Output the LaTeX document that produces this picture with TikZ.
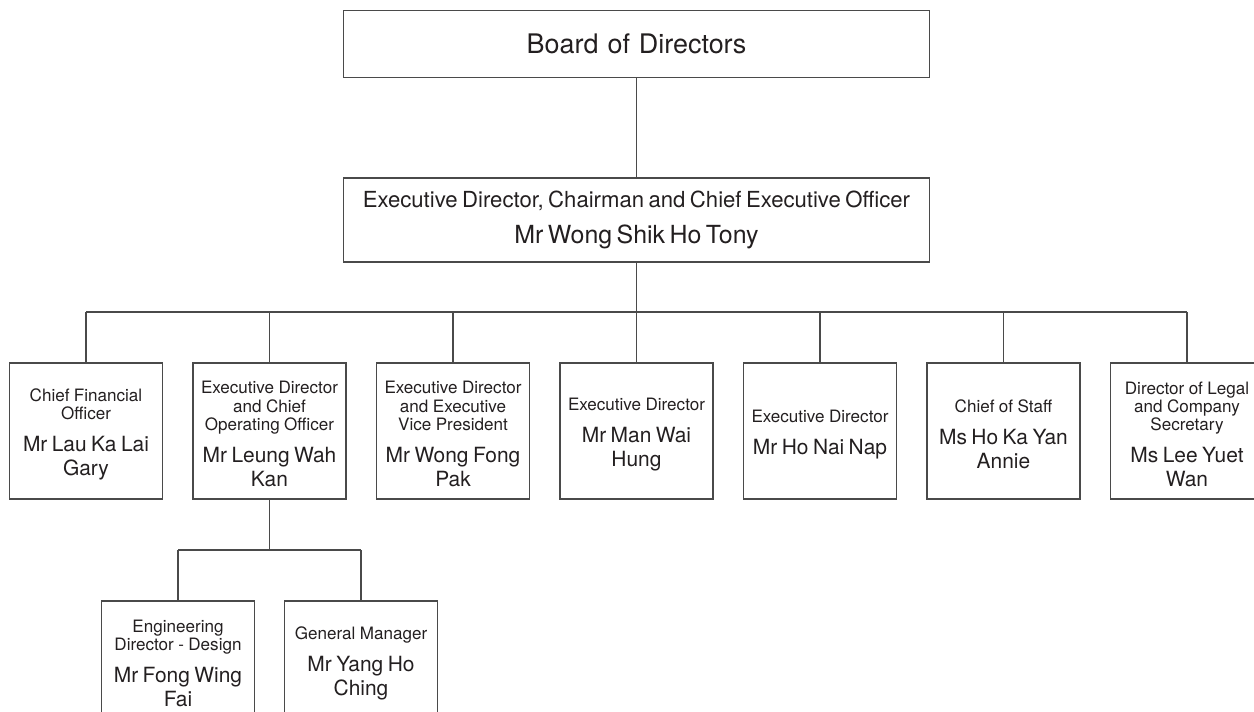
\documentclass[tikz,border=0pt]{standalone}
\usepackage{fontspec}
\setmainfont{TeX Gyre Heros}
\usetikzlibrary{positioning,calc}
\definecolor{RuleGrey}{HTML}{4A4A4A}
\definecolor{InkText}{HTML}{231F20}
\newcommand{\posttitle}[1]{{\fontsize{12.8}{13.6}\selectfont #1\par}}
\newcommand{\postname}[1]{{\fontsize{15.7}{18.2}\selectfont #1\par}}
\newcommand{\postcard}[2]{\posttitle{#1}\vspace{6pt}\postname{#2}\vspace{-5pt}}

\tikzset{
  post/.style={draw=RuleGrey,line width=0.9pt,text=InkText,align=center,text width=110pt,inner xsep=2pt,minimum width=114.75pt,minimum height=102pt},
  subpost/.style={post,minimum height=88.5pt},
  headpost/.style={draw=RuleGrey,line width=0.9pt,text=InkText,align=center,text width=430pt,inner xsep=2pt,minimum width=439.5pt},
  link/.style={draw=RuleGrey,line width=0.9pt},
}

\begin{document}
\begin{tikzpicture}[x=0.75pt,y=-0.75pt]
  \useasboundingbox (0,0) rectangle (1254,712);
  % top of the chart
  \node[headpost,minimum height=50.25pt,font=\fontsize{20.2}{24}\selectfont] (board) at (636.5,44) {Board of Directors};
  \node[headpost,minimum height=63pt] (chair) at (636.5,220) {{\fontsize{16.6}{19.5}\selectfont Executive Director, Chairman and Chief Executive Officer\par}\vspace{5pt}{\fontsize{18.7}{22.5}\selectfont Mr Wong Shik Ho Tony\par}};
  % second row
  \node[post] (cfo) at (86,431) {\postcard{Chief Financial\\Officer}{Mr Lau Ka Lai\\Gary}};
  \node[post] (coo) at (269.5,431) {\postcard{Executive Director\\and Chief\\Operating Officer}{Mr Leung Wah\\Kan}};
  \node[post] (evp) at (453,431) {\postcard{Executive Director\\and Executive\\Vice President}{Mr Wong Fong\\Pak}};
  \node[post] (edman) at (636.5,431) {\postcard{Executive Director}{Mr Man Wai\\Hung}};
  \node[post] (edho) at (820,431) {\postcard{Executive Director}{Mr Ho Nai Nap}};
  \node[post] (staff) at (1003.5,431) {\postcard{Chief of Staff}{Ms Ho Ka Yan\\Annie}};
  \node[post] (legal) at (1187,431) {\postcard{Director of Legal\\and Company\\Secretary}{Ms Lee Yuet\\Wan}};
  % third row
  \node[subpost] (eng) at (178,660) {\postcard{Engineering\\Director - Design}{Mr Fong Wing\\Fai}};
  \node[subpost] (gm) at (361,660) {\postcard{General Manager}{Mr Yang Ho\\Ching}};
  % connectors
  \coordinate (bus) at (636.5,312);
  \coordinate (subbus) at (269.5,550);
  \draw[link] (board.south) -- (chair.north);
  \draw[link] (chair.south) -- (chair.south |- bus);
  \draw[link] (cfo.north |- bus) -- (legal.north |- bus);
  \foreach \p in {cfo,coo,evp,edman,edho,staff,legal}
    \draw[link] (\p.north) -- (\p.north |- bus);
  \draw[link] (coo.south) -- (coo.south |- subbus);
  \draw[link] (eng.north |- subbus) -- (gm.north |- subbus);
  \foreach \p in {eng,gm}
    \draw[link] (\p.north) -- (\p.north |- subbus);
\end{tikzpicture}
\end{document}
